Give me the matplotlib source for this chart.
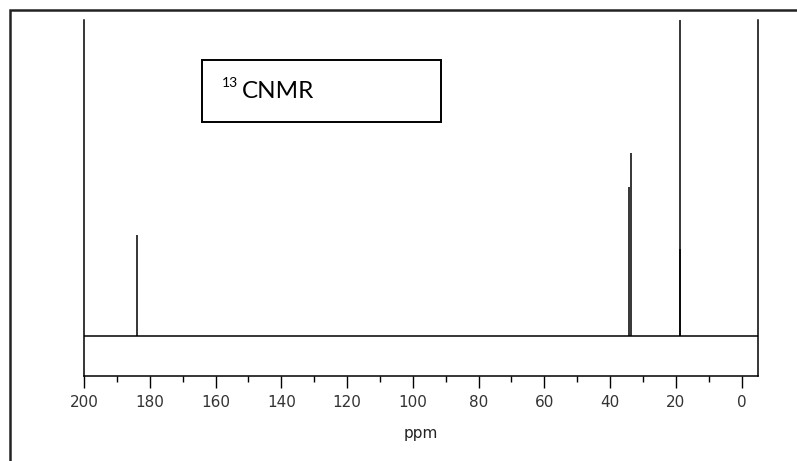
import matplotlib
matplotlib.use("Agg")
import matplotlib.pyplot as plt
from matplotlib.patches import Rectangle
from matplotlib.ticker import MultipleLocator

# peak positions (ppm) and relative heights (baseline = 0, top of frame = 1)
peak_ppm = [184.0, 34.1, 33.5, 18.75, 18.6]
peak_height = [0.32, 0.47, 0.58, 1.40, 0.275]

xlim_ppm = (200, -5)
major_step = 20
minor_step = 10
title_sup = "13"
title_main = "CNMR"
xlabel = "ppm"

fig = plt.figure(figsize=(7.97, 4.61), dpi=100)

# outer frame (right/bottom edges run off the picture)
fig.patches.append(Rectangle((9.5 / 797, -0.02), 1.05, 0.978 + 0.02, transform=fig.transFigure,
                             fill=False, edgecolor="#222222", linewidth=1.8, zorder=0))

ax = fig.add_axes([84 / 797, 1 - 376 / 461, (758 - 84) / 797, (376 - 20) / 461])
ax.set_xlim(*xlim_ppm)
ax.set_ylim(-0.127, 1.0)

ax.axhline(0, color="black", lw=1.1)
ax.vlines(peak_ppm, 0, peak_height, color="black", lw=1.1)

ax.spines["top"].set_visible(False)
for s in ["left", "right", "bottom"]:
  ax.spines[s].set_linewidth(1.1)
ax.set_yticks([])
ax.xaxis.set_major_locator(MultipleLocator(major_step))
ax.xaxis.set_minor_locator(MultipleLocator(minor_step))
ax.tick_params(axis="x", which="major", length=8.5, width=1.0, labelsize=11, pad=5, colors="black")
ax.tick_params(axis="x", which="minor", length=4.5, width=1.0)
for lab in ax.get_xticklabels():
  lab.set_color("#333333")
ax.set_xlabel(xlabel, fontsize=11, labelpad=12, color="#222222")

# label box
fig.patches.append(Rectangle((202 / 797, 1 - 122 / 461), (441 - 202) / 797, (122 - 60) / 461,
                             transform=fig.transFigure, fill=False, edgecolor="black", linewidth=1.4))
fig.text(222 / 797, 1 - 87 / 461, title_sup, fontsize=10, family="Lato", va="baseline")
fig.text(242 / 797, 1 - 98 / 461, title_main, fontsize=17.5, family="Lato", va="baseline")

fig.savefig("out.png", dpi=100)
